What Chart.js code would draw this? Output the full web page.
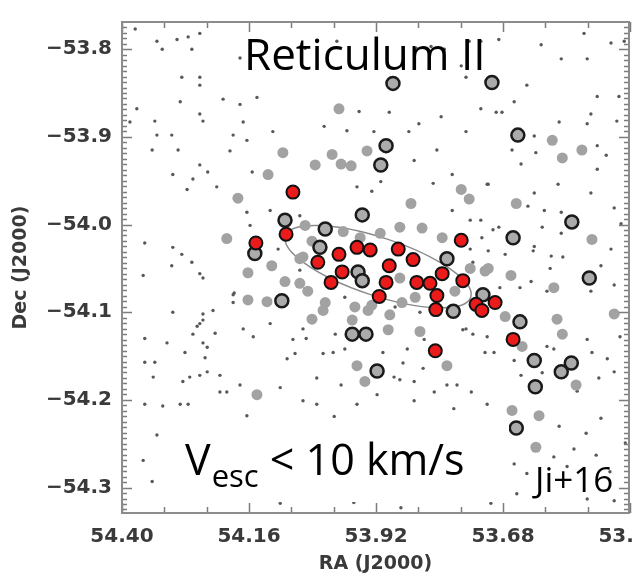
<!DOCTYPE html>
<html>
<head>
<meta charset="utf-8">
<script src="https://cdn.jsdelivr.net/npm/chart.js@4.4.1/dist/chart.umd.min.js"></script>
<style>
html,body{margin:0;padding:0;background:#fff;overflow:hidden;}
#wrap{position:relative;width:634px;height:579px;overflow:hidden;background:#fff;}
#c{position:absolute;left:0;top:0;}
</style>
</head>
<body>
<div id="wrap"><canvas id="c" width="680" height="579" style="width:680px;height:579px"></canvas></div>
<script>
// ---- axis ticks ----
const xTickValues = [54.40, 54.16, 53.92, 53.68, 53.44];
const xTickLabels = ['54.40', '54.16', '53.92', '53.68', '53.44'];
const yTickValues = [-53.8, -53.9, -54.0, -54.1, -54.2, -54.3];
const yTickLabels = ['\u221253.8', '\u221253.9', '\u221254.0', '\u221254.1', '\u221254.2', '\u221254.3'];
const xRange = [53.442, 54.40];
const yRange = [-54.329, -53.769];
const xMinorStep = 0.08;
const yMinorStep = 0.00625;

// ---- stars [RA, Dec] ----
const redStars = [
 [54.077,-53.963],[54.090,-54.011],[54.147,-54.021],[54.030,-54.043],[53.990,-54.034],
 [53.956,-54.026],[53.931,-54.029],[53.878,-54.028],[53.850,-54.040],[53.759,-54.018],
 [53.984,-54.054],[54.005,-54.066],[53.895,-54.047],[53.901,-54.066],[53.914,-54.082],
 [53.795,-54.056],[53.756,-54.064],[53.843,-54.066],[53.818,-54.067],[53.805,-54.081],
 [53.807,-54.097],[53.731,-54.091],[53.695,-54.089],[53.720,-54.098],[53.661,-54.131],
 [53.808,-54.144]
];
const ringedStars = [
 [53.888,-53.839],[53.701,-53.838],[53.901,-53.910],[53.911,-53.932],[53.652,-53.898],
 [53.946,-53.989],[54.092,-53.995],[54.149,-54.033],[54.016,-54.005],[54.026,-54.026],
 [53.786,-54.039],[53.661,-54.015],[53.550,-53.997],[53.517,-54.061],[53.954,-54.054],
 [53.946,-54.064],[54.098,-54.087],[53.965,-54.125],[53.939,-54.125],[53.918,-54.167],
 [53.774,-54.099],[53.718,-54.080],[53.648,-54.111],[53.621,-54.155],[53.570,-54.168],
 [53.551,-54.158],[53.619,-54.185],[53.655,-54.232]
];
const grayStars = [
 [54.096,-53.918],[54.035,-53.932],[54.124,-53.943],[54.181,-53.970],[54.202,-54.016],
 [54.162,-54.055],[54.117,-54.047],[54.092,-54.065],[54.162,-54.086],[54.126,-54.088],
 [54.145,-54.194],[53.990,-53.868],[54.003,-53.920],[53.986,-53.931],[53.967,-53.933],
 [53.937,-53.916],[53.587,-53.904],[53.568,-53.924],[53.531,-53.915],[53.759,-53.960],
 [53.744,-53.971],[53.655,-53.976],[53.854,-53.976],[53.512,-54.017],[53.665,-54.058],
 [53.584,-54.072],[53.875,-54.003],[53.833,-54.004],[53.982,-54.008],[53.912,-54.010],
 [54.054,-54.001],[53.795,-54.015],[53.708,-54.050],[54.020,-54.098],[54.041,-54.108],
 [53.965,-54.109],[53.935,-54.098],[53.897,-54.120],[53.894,-54.103],[53.837,-54.122],
 [53.956,-54.161],[53.941,-54.179],[53.470,-54.102],[53.568,-54.125],[53.542,-54.183],
 [53.663,-54.212],[53.618,-54.254],[53.612,-54.218],[53.786,-54.161],[54.041,-54.019],
 [54.064,-54.067],[54.016,-54.089],[53.960,-54.094],[53.928,-54.092],[53.871,-54.089],
 [53.846,-54.083],[53.771,-54.076],[53.742,-54.050],[53.714,-54.053],[53.676,-54.105],
 [53.875,-54.061],[54.064,-54.039],[53.950,-54.015],[53.578,-54.108],[53.644,-54.139],
 [54.058,-54.037],[54.049,-54.076]
];
const faintSources = [
 [54.375,-53.777],[54.334,-53.791],[54.296,-53.789],[54.275,-53.786],[54.253,-53.782],
 [54.324,-53.800],[54.268,-53.800],[54.177,-53.810],[54.054,-53.799],[54.287,-53.832],
 [54.253,-53.832],[54.290,-53.860],[54.253,-53.841],[54.209,-53.857],[54.177,-53.863],
 [54.145,-53.855],[54.372,-53.868],[54.338,-53.882],[54.253,-53.874],[54.247,-53.882],
 [54.171,-53.883],[54.115,-53.894],[54.385,-53.883],[54.334,-53.898],[54.306,-53.898],
 [54.190,-53.898],[54.164,-53.904],[54.196,-53.916],[54.294,-53.915],[54.343,-53.915],
 [54.304,-53.943],[54.253,-53.932],[54.238,-53.940],[54.154,-53.940],[54.266,-53.948],
 [54.277,-53.960],[54.221,-53.957],[54.164,-53.986],[54.357,-54.021],[54.304,-54.026],
 [54.287,-54.034],[54.306,-54.047],[54.268,-54.043],[54.253,-54.056],[54.360,-54.058],
 [54.247,-54.061],[54.190,-54.080],
 [53.994,-53.791],[53.844,-53.799],[53.816,-53.797],[53.791,-53.800],[53.744,-53.791],
 [53.722,-53.791],[53.688,-53.789],[53.608,-53.795],[53.570,-53.811],[53.521,-53.811],
 [53.476,-53.793],[53.451,-53.791],[53.527,-53.782],[53.759,-53.819],[53.750,-53.832],
 [53.635,-53.841],[53.659,-53.860],[53.502,-53.854],[53.461,-53.854],[53.722,-53.868],
 [53.693,-53.872],[53.682,-53.872],[53.895,-53.872],[53.952,-53.871],[53.797,-53.877],
 [53.750,-53.894],[53.839,-53.885],[53.858,-53.894],[54.018,-53.888],[53.975,-53.893],
 [53.924,-53.894],[53.521,-53.885],[53.465,-53.882],[53.574,-53.883],[53.621,-53.899],
 [53.618,-53.918],[53.502,-53.910],[53.514,-53.874],[53.848,-53.927],[53.805,-53.915],
 [53.646,-53.931],[53.663,-53.915],[53.485,-53.921],[53.502,-53.937],[53.911,-53.951],
 [53.956,-53.957],[53.928,-53.962],[53.710,-53.954],[53.776,-53.943],[53.621,-53.964],
 [53.514,-53.964],[53.602,-53.984],[53.570,-53.986],[53.606,-54.003],[53.570,-54.010],
 [53.621,-54.025],[53.470,-53.981],[53.457,-53.999],[53.476,-54.028],[53.688,-54.003],
 [53.722,-53.995],[53.589,-54.036],[53.495,-54.047],[53.514,-54.076],[53.627,-54.065],
 [53.597,-54.076],[53.470,-54.069],
 [54.357,-54.130],[54.315,-54.135],[54.304,-54.100],[54.266,-54.125],[54.253,-54.113],
 [54.247,-54.135],[54.243,-54.152],[54.224,-54.124],[54.171,-54.119],[54.152,-54.128],
 [54.281,-54.146],[54.357,-54.157],[54.338,-54.157],[54.341,-54.174],[54.285,-54.179],
 [54.272,-54.174],[54.253,-54.172],[54.239,-54.168],[54.215,-54.172],[54.177,-54.183],
 [54.215,-54.191],[54.202,-54.191],[54.101,-54.186],[54.058,-54.201],[54.357,-54.205],
 [54.323,-54.207],[54.290,-54.205],[54.275,-54.205],[54.164,-54.218],[54.088,-54.153],
 [54.077,-54.131],[54.334,-54.240],[54.360,-54.269],[54.343,-54.293],[54.101,-54.318],
 [54.188,-54.078],[54.190,-54.089],[54.228,-54.098],[54.247,-54.102],[54.247,-54.109],
 [54.258,-54.116],[54.120,-54.113],[54.058,-54.119],[54.052,-54.130],[54.239,-54.140],
 [54.073,-54.147],
 [53.861,-54.142],[53.829,-54.131],[53.750,-54.119],[53.710,-54.128],[53.697,-54.146],
 [53.659,-54.155],[53.646,-54.172],[53.606,-54.169],[53.597,-54.139],[53.584,-54.142],
 [53.521,-54.131],[53.512,-54.146],[53.483,-54.153],[53.499,-54.175],[53.470,-54.168],
 [53.540,-54.190],[53.495,-54.221],[53.574,-54.230],[53.523,-54.238],[53.504,-54.263],
 [53.546,-54.256],[53.584,-54.265],[53.559,-54.276],[53.659,-54.273],[53.635,-54.284],
 [53.654,-54.307],[53.521,-54.313],[53.470,-54.315],[53.962,-54.317],[53.873,-54.323],
 [53.703,-54.318],[53.740,-54.191],[53.710,-54.205],[53.786,-54.183],[53.810,-54.191],
 [53.848,-54.179],[53.886,-54.174],[53.918,-54.194],[53.956,-54.205],[54.032,-54.205],
 [53.999,-54.219],[53.848,-54.201],[53.986,-54.183],[54.032,-54.175],[53.773,-54.210],
 [53.812,-53.953],[53.708,-53.954],[53.633,-53.979],[53.576,-53.954],[53.776,-53.984],
 [53.742,-53.995],[53.699,-54.006],[53.720,-54.015],[53.708,-54.030],[53.623,-54.030],
 [53.591,-54.050],[53.567,-54.037],[53.737,-54.043],
 [53.756,-54.120],[53.737,-54.125],[53.714,-54.146],[53.767,-54.183],
 [53.997,-54.125],[54.020,-54.147],[54.001,-54.146],[53.979,-54.142],[53.907,-54.146],
 [53.869,-54.158],[53.875,-54.177],[53.831,-54.164],
 [54.064,-53.990],[54.120,-53.984],[54.158,-54.001],[54.105,-54.028],[54.064,-54.052],
 [53.979,-54.083],[53.884,-54.094],[53.837,-54.100],[53.742,-54.028],[53.676,-54.034],
 [53.648,-54.072],[53.686,-54.072],[53.459,-54.128],[53.449,-54.249],[53.478,-54.282]
];
// half-light ellipse: centre, end of major axis, end of minor axis
const ellipseCenter = [53.916, -54.048];
const ellipseMajorEnd = [53.741, -54.083];
const ellipseMinorEnd = [53.935, -54.079];

const toXY = arr => arr.map(p => ({x: p[0], y: p[1]}));

const framePlugin = {
  id: 'frame',
  beforeDatasetsDraw(chart) {
    const {ctx, scales: {x, y}} = chart;
    const c = [x.getPixelForValue(ellipseCenter[0]), y.getPixelForValue(ellipseCenter[1])];
    const m = [x.getPixelForValue(ellipseMajorEnd[0]), y.getPixelForValue(ellipseMajorEnd[1])];
    const n = [x.getPixelForValue(ellipseMinorEnd[0]), y.getPixelForValue(ellipseMinorEnd[1])];
    const a = Math.hypot(m[0]-c[0], m[1]-c[1]);
    const b = Math.hypot(n[0]-c[0], n[1]-c[1]);
    const rot = Math.atan2(m[1]-c[1], m[0]-c[0]);
    ctx.save();
    ctx.strokeStyle = '#8a8a8a';
    ctx.lineWidth = 1.5;
    ctx.beginPath();
    ctx.ellipse(c[0], c[1], a, b, rot, 0, Math.PI * 2);
    ctx.stroke();
    ctx.restore();
  },
  afterDatasetsDraw(chart) {
    const {ctx, chartArea: ar, scales: {x, y}} = chart;
    ctx.save();
    ctx.strokeStyle = '#7c7c7c';
    ctx.lineWidth = 1.5;
    ctx.beginPath();
    const isMajor = (v, list, tol) => list.some(t => Math.abs(t - v) < tol);
    const y0 = Math.ceil(yRange[0] / yMinorStep) * yMinorStep;
    for (let v = y0; v <= yRange[1] + 1e-9; v += yMinorStep) {
      const py = Math.round(y.getPixelForValue(v)) + 0.5;
      const len = isMajor(v, yTickValues, yMinorStep / 3) ? 10 : 5;
      ctx.moveTo(ar.left, py); ctx.lineTo(ar.left + len, py);
      ctx.moveTo(ar.right, py); ctx.lineTo(ar.right - len, py);
    }
    for (let v = 53.44; v <= xRange[1] + 1e-9; v += xMinorStep) {
      const px = Math.round(x.getPixelForValue(v)) + 0.5;
      const len = isMajor(v, xTickValues, xMinorStep / 3) ? 10 : 6;
      ctx.moveTo(px, ar.bottom); ctx.lineTo(px, ar.bottom - len);
      ctx.moveTo(px, ar.top); ctx.lineTo(px, ar.top + len);
    }
    ctx.stroke();
    ctx.strokeStyle = '#8c8c8c';
    ctx.lineWidth = 2;
    ctx.strokeRect(ar.left, ar.top, ar.right - ar.left, ar.bottom - ar.top);
    ctx.restore();
  },
  afterDraw(chart) {
    const ctx = chart.ctx;
    ctx.save();
    ctx.fillStyle = '#ffffff';
    ctx.fillRect(165, 418, 344, 84);
    ctx.fillStyle = '#000000';
    ctx.textBaseline = 'alphabetic';
    ctx.textAlign = 'left';
    ctx.font = '44px "Open Sans"';
    ctx.fillText('Reticulum II', 244, 70);
    let cx = 185;
    ctx.font = '43px "Open Sans"';
    ctx.fillText('V', cx, 475);
    cx += ctx.measureText('V').width + 1;
    ctx.font = '31px "Open Sans"';
    ctx.fillText('esc', cx, 487);
    cx += ctx.measureText('esc').width;
    ctx.font = '43px "Open Sans"';
    ctx.fillText(' < 10 km/s', cx, 475);
    ctx.font = '35px "Open Sans"';
    ctx.fillText('Ji+16', 535, 492);
    ctx.restore();
  }
};

new Chart(document.getElementById('c'), {
  type: 'scatter',
  data: {
    datasets: [
      { label: 'members', data: toXY(redStars), pointRadius: 6.5, pointHoverRadius: 6.5,
        backgroundColor: '#ec1b1b', borderColor: '#111111', borderWidth: 2 },
      { label: 'non-members', data: toXY(ringedStars), pointRadius: 6.5, pointHoverRadius: 6.5,
        backgroundColor: '#ababab', borderColor: '#1a1a1a', borderWidth: 2.5 },
      { label: 'candidates', data: toXY(grayStars), pointRadius: 5.5, pointHoverRadius: 5.5,
        backgroundColor: '#a2a2a2', borderWidth: 0 },
      { label: 'faint', data: toXY(faintSources), pointRadius: 1.7, pointHoverRadius: 1.7,
        backgroundColor: '#585858', borderWidth: 0 }
    ]
  },
  options: {
    responsive: false,
    animation: false,
    devicePixelRatio: 1,
    layout: { padding: { top: 5, right: 51, bottom: 0, left: 0 } },
    plugins: { legend: { display: false }, tooltip: { enabled: false } },
    events: [],
    scales: {
      x: {
        type: 'linear', reverse: true, min: xRange[0], max: xRange[1],
        grid: { display: false, drawTicks: false },
        border: { display: false },
        afterBuildTicks: s => { s.ticks = xTickValues.map(v => ({ value: v })); },
        afterFit: s => { s.height = 66; },
        ticks: {
          autoSkip: false, maxRotation: 0, padding: 12, color: '#3a3a3a',
          font: { family: '"DejaVu Sans"', size: 20, weight: 'bold' },
          callback: (v, i) => xTickLabels[i]
        },
        title: {
          display: true, text: 'RA (J2000)', color: '#3a3a3a',
          font: { family: '"DejaVu Sans"', size: 19, weight: 'bold' },
          padding: { top: 0, bottom: 4 }
        }
      },
      y: {
        type: 'linear', min: yRange[0], max: yRange[1],
        grid: { display: false, drawTicks: false },
        border: { display: false },
        afterBuildTicks: s => { s.ticks = yTickValues.map(v => ({ value: v })); },
        afterFit: s => { s.width = 122; },
        ticks: {
          autoSkip: false, padding: 10, color: '#3a3a3a',
          font: { family: '"DejaVu Sans"', size: 20, weight: 'bold' },
          callback: (v, i) => yTickLabels[i]
        },
        title: {
          display: true, text: 'Dec (J2000)', color: '#3a3a3a',
          font: { family: '"DejaVu Sans"', size: 19, weight: 'bold' },
          padding: { top: 10, bottom: 0 }
        }
      }
    }
  },
  plugins: [framePlugin]
});
</script>
</body>
</html>
